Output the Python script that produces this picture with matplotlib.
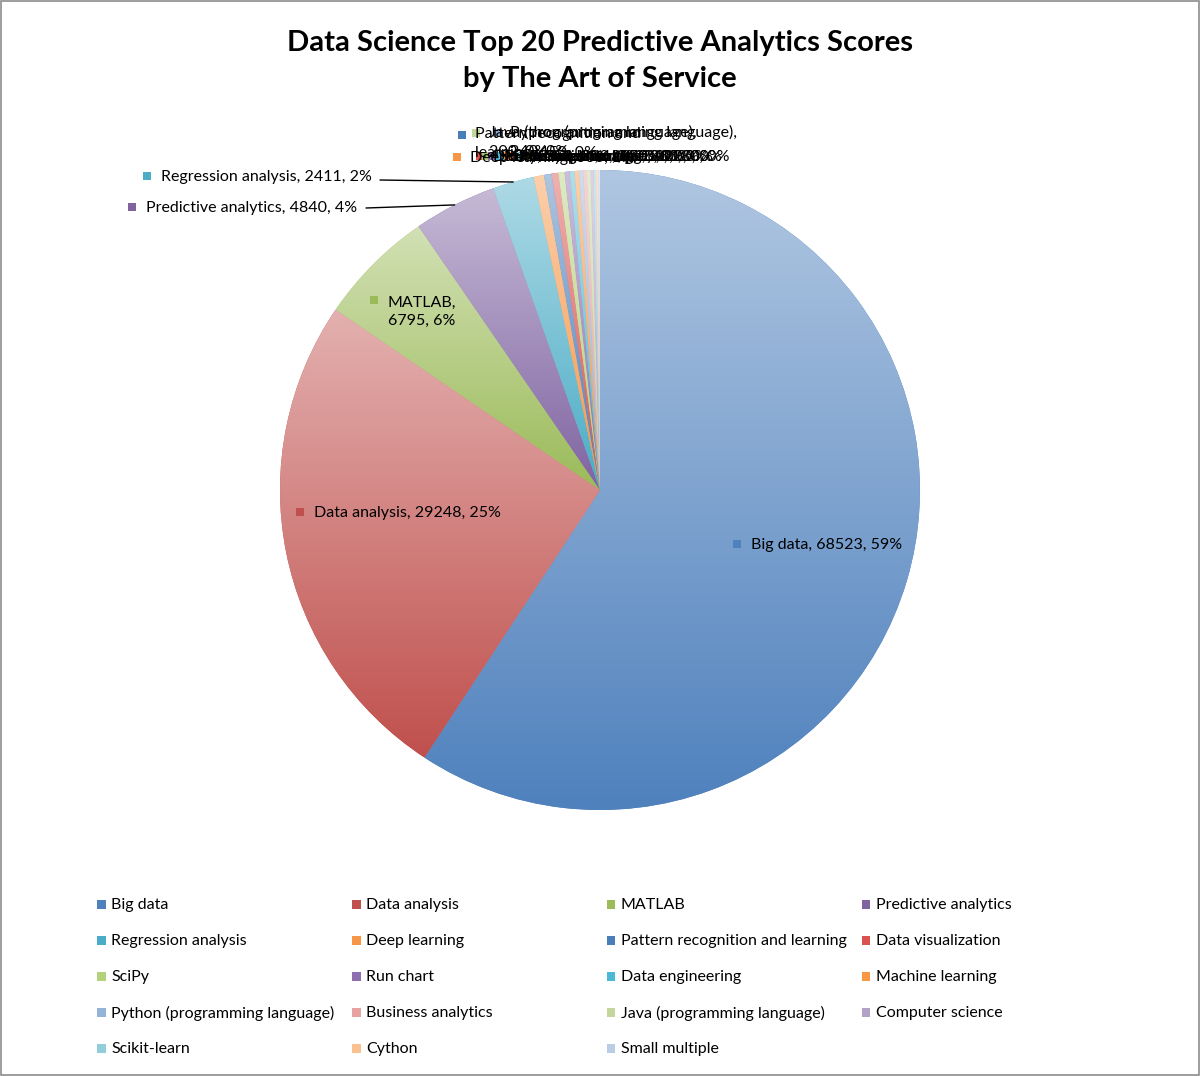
import numpy as np
import matplotlib
matplotlib.use('Agg')
import matplotlib.pyplot as plt
from matplotlib.colors import to_rgb
from matplotlib.patches import Rectangle

plt.rcParams['font.family'] = ['Lato', 'DejaVu Sans']

categories = ['Big data', 'Data analysis', 'MATLAB', 'Predictive analytics',
              'Regression analysis', 'Deep learning', 'Pattern recognition and learning',
              'Data visualization', 'SciPy', 'Run chart', 'Data engineering',
              'Machine learning', 'Python (programming language)', 'Business analytics',
              'Java (programming language)', 'Computer science', 'Scikit-learn',
              'Cython', 'Small multiple']
scores = [68523, 29248, 6795, 4840, 2411, 600, 450, 400, 350, 300, 280, 260,
          240, 220, 200, 180, 150, 120, 100]
colors = ['#4F81BD', '#C0504D', '#9BBB59', '#8064A2', '#4BACC6', '#F79646',
          '#4A7EBB', '#D9534F', '#B3D17A', '#8E6FB0', '#4BB8D5', '#F79646',
          '#95B3D7', '#E6A3A1', '#C3D69B', '#B3A2C7', '#92CDDC', '#FAC090', '#B9CDE5']
title = 'Data Science Top 20 Predictive Analytics Scores\nby The Art of Service'

W, H = 1200, 1076


def fp(x, y):
    # pixel position (top-left origin) -> figure fraction
    return x / W, 1 - y / H


fig = plt.figure(figsize=(W / 100, H / 100), dpi=100)
fig.patch.set_facecolor('white')
fig.patches.append(Rectangle((0.0005, 0.0005), 0.999, 0.999, transform=fig.transFigure,
                             fill=False, edgecolor='#8c8c8c', lw=1.2))

ax = fig.add_axes([280 / W, (H - 810) / H, 640 / W, 640 / H])
wedges, _ = ax.pie(scores, colors=colors, startangle=90, counterclock=False,
                   radius=1, wedgeprops=dict(linewidth=0))

# vertical gradient (light top, base bottom) inside each slice
for w, c in zip(wedges, colors):
    base = np.array(to_rgb(c))
    light = base + 0.55 * (1 - base)
    t = np.linspace(0, 1, 128)[:, None, None]
    img = light * (1 - t) + base * t
    bb = w.get_path().get_extents()
    im = ax.imshow(img, extent=(bb.x0, bb.x1, bb.y0, bb.y1), origin='upper',
                   aspect='auto', interpolation='bilinear', zorder=w.get_zorder() + 0.1)
    im.set_clip_path(w)
ax.set_xlim(-1, 1)
ax.set_ylim(-1, 1)
ax.set_aspect('auto')
ax.axis('off')

fig.text(*fp(600, 61), title, ha='center', va='center', fontsize=21,
         fontweight='bold', linespacing=1.45, color='black')

total = sum(scores)
labels = [f'{c}, {v}, {round(v / total * 100)}%' for c, v in zip(categories, scores)]


def key(x, y, c, s=8):
    fig.patches.append(Rectangle(fp(x - s / 2, y + s / 2), s / W, s / H,
                                 transform=fig.transFigure, facecolor=c, edgecolor='none'))


FS = 11.5

# big slice labels
key(737, 544, colors[0])
fig.text(*fp(751, 545), labels[0], fontsize=FS, va='center')
key(300, 512, colors[1])
fig.text(*fp(314, 513), labels[1], fontsize=FS, va='center')
key(374, 300, colors[2])
fig.text(*fp(388, 312), f'{categories[2]},\n{scores[2]}, {round(scores[2] / total * 100)}%',
         fontsize=FS, va='center', linespacing=1.3)
key(132, 207, colors[3])
fig.text(*fp(146, 208), labels[3], fontsize=FS, va='center')
key(147, 176, colors[4])
fig.text(*fp(161, 177), labels[4], fontsize=FS, va='center')

# leader lines to the slice edges
mids = []
acc = 0
for v in scores:
    mids.append(np.deg2rad(90 - (acc + v / 2) / total * 360))
    acc += v
for i, (lx, ly) in [(4, (380, 180)), (3, (366, 208))]:
    ax.annotate('', xy=(np.cos(mids[i]), np.sin(mids[i])), xycoords='data',
                xytext=fp(lx, ly), textcoords='figure fraction',
                arrowprops=dict(arrowstyle='-', color='black', lw=1,
                                shrinkA=0, shrinkB=0))

# crowded labels of the tiny slices (overlapping as in the original)
small_pos = {5: (457, 157, False), 6: (462, 135, True), 7: (480, 156, False),
             8: (486, 156, False), 9: (492, 156, False), 10: (500, 156, False),
             11: (508, 156, False), 12: (497, 133, True), 13: (516, 156, False),
             14: (476, 133, True), 15: (524, 156, False), 16: (520, 156, False),
             17: (530, 156, False), 18: (536, 156, False)}
for i, (x, y, wrapped) in small_pos.items():
    key(x, y, colors[i])
    pct = round(scores[i] / total * 100)
    if wrapped:
        name = categories[i]
        if ' (' in name:
            txt = f'{name},\n{scores[i]}, {pct}%'
        else:
            txt = f'{name.rsplit(" ", 1)[0]}\n{name.rsplit(" ", 1)[1]}, {scores[i]}, {pct}%'
        fig.text(*fp(x + 13, y - 8), txt, fontsize=FS, va='top', linespacing=1.45)
    else:
        fig.text(*fp(x + 13, y + 1), labels[i], fontsize=FS, va='center')

# legend laid out row-wise in four fixed columns
for k, (c, col) in enumerate(zip(categories, colors)):
    r, cc = divmod(k, 4)
    x = 101 + cc * 255
    y = 904 + r * 36
    key(x, y, col, s=9)
    fig.text(*fp(x + 10, y + 1), c, fontsize=FS, va='center')

fig.savefig('out.png', dpi=100, facecolor='white')
